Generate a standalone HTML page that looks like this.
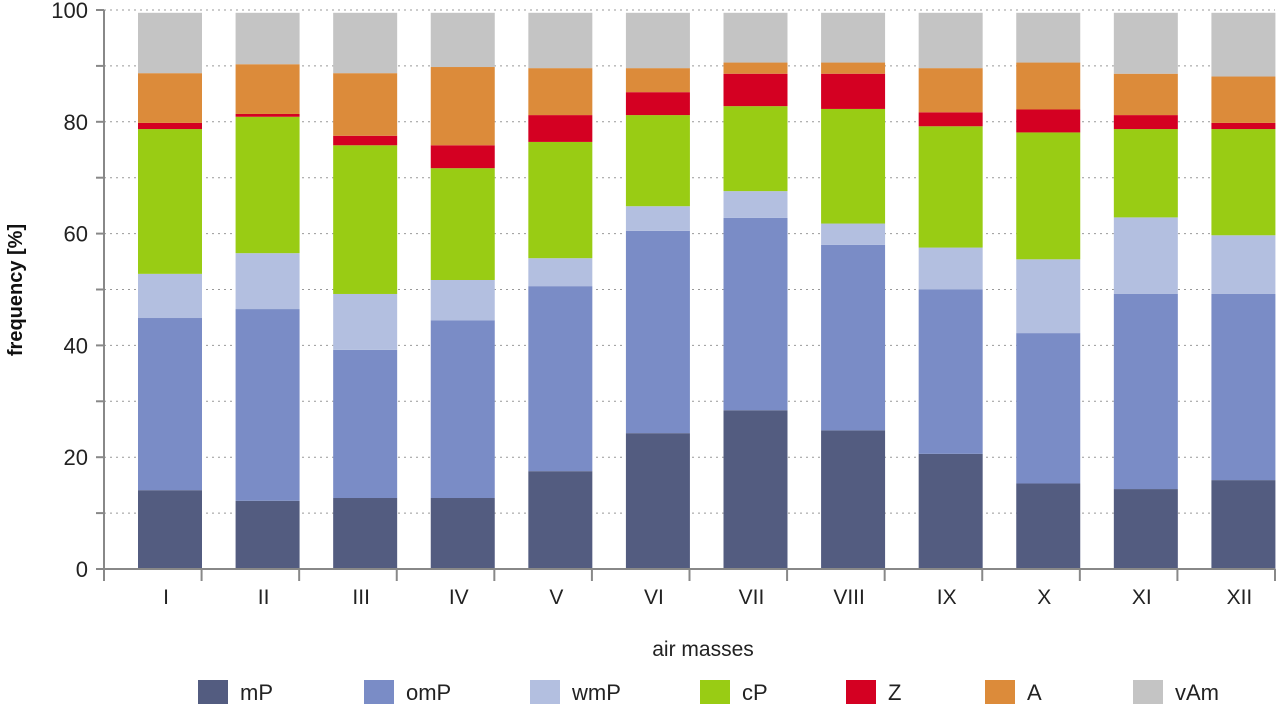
<!DOCTYPE html>
<html><head><meta charset="utf-8"><style>
body{margin:0;background:#fff;font-family:"Liberation Sans",sans-serif;}
svg text{font-family:"Liberation Sans",sans-serif;}
</style></head><body>
<svg id="chart" width="1280" height="710"></svg>
<script>
const categories=["I","II","III","IV","V","VI","VII","VIII","IX","X","XI","XII"];
const seriesNames=["mP","omP","wmP","cP","Z","A","vAm"];
const mP=[14.1,12.2,12.7,12.7,17.5,24.3,28.4,24.8,20.6,15.3,14.3,15.9];
const omP=[30.8,34.3,26.5,31.8,33.1,36.2,34.4,33.2,29.4,26.9,34.9,33.3];
const wmP=[7.9,10.0,10.0,7.2,5.0,4.4,4.8,3.8,7.5,13.2,13.7,10.5];
const cP=[25.9,24.4,26.6,20.0,20.8,16.3,15.2,20.5,21.7,22.7,15.8,19.0];
const Z=[1.1,0.5,1.7,4.1,4.8,4.1,5.8,6.3,2.5,4.1,2.5,1.1];
const A=[8.9,8.9,11.2,14.0,8.4,4.3,2.0,2.0,7.9,8.4,7.4,8.3];
const vAm=[10.8,9.2,10.8,9.7,9.9,9.9,8.9,8.9,9.9,8.9,10.9,11.4];
const yTicks=[0,20,40,60,80,100];
const series=[mP,omP,wmP,cP,Z,A,vAm];
const colors=["#535c80","#7a8cc6","#b3bfe0","#99cc14","#d40022","#dc8b3a","#c4c4c4"];
const NS="http://www.w3.org/2000/svg";
const svg=document.getElementById('chart');
const x0=104,x1=1275,y0=569,y1=10;
const step=(x1-x0)/12;
const ys=v=>y0-(v/100)*(y0-y1);
const xc=i=>x0+step*i+66;
function mk(t,a,p){const e=document.createElementNS(NS,t);for(const k in a)e.setAttribute(k,a[k]);(p||svg).appendChild(e);return e;}
for(let v=10;v<=100;v+=10){
 const g=mk('line',{x1:x0,x2:x1,y1:ys(v),y2:ys(v),stroke:'#999','stroke-width':1,'stroke-dasharray':'2,4'});
 
 
}
categories.forEach((c,i)=>{
 let cum=0;
 series.forEach((s,k)=>{
  const v=s[i];
  const r=mk('rect',{x:xc(i)-32,y:ys(cum+v),width:64,height:ys(cum)-ys(cum+v),fill:colors[k]});
  
  
  cum+=v;
 });
 const t=mk('text',{x:xc(i)-4,y:604,'text-anchor':'middle','font-size':21,fill:'#222'});
 t.textContent=c;
 
 
 const tk=mk('line',{x1:x0+step*(i+1),x2:x0+step*(i+1),y1:y0,y2:y0+12,stroke:'#888','stroke-width':2});
 
 
});
const ax=mk('line',{x1:x0,x2:x1,y1:y0,y2:y0,stroke:'#888','stroke-width':2});


const ay=mk('line',{x1:x0,x2:x0,y1:y1,y2:y0+12,stroke:'#888','stroke-width':2});


for(let v=0;v<=100;v+=10){
 const tk=mk('line',{x1:x0-8,x2:x0,y1:ys(v),y2:ys(v),stroke:'#888','stroke-width':2});
 
 
}
yTicks.forEach(v=>{
 const t=mk('text',{x:88,y:ys(v)+8,'text-anchor':'end','font-size':22,fill:'#222'});
 t.textContent=v;
 
 
});
const yt=mk('text',{x:0,y:0,transform:'translate(22,290) rotate(-90)','text-anchor':'middle','font-size':20,'font-weight':'bold',fill:'#111'});
yt.textContent='frequency [%]';


const xt=mk('text',{x:703,y:656,'text-anchor':'middle','font-size':21,fill:'#222'});
xt.textContent='air masses';


const lx=[198,364,530,700,846,985,1133];
seriesNames.forEach((n,k)=>{
 const g=mk('g',{});
 
 
 mk('rect',{x:lx[k],y:680,width:30,height:24,fill:colors[k]},g);
 const t=mk('text',{x:lx[k]+42,y:700,'font-size':22,fill:'#222'},g);
 t.textContent=n;
});
</script>
</body></html>
